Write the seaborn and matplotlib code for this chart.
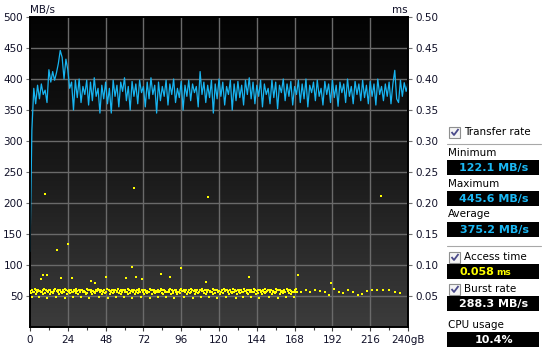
import numpy as np
import pandas as pd
import matplotlib
matplotlib.use("Agg")
import matplotlib.pyplot as plt
import seaborn as sns
from matplotlib.patches import Rectangle
from matplotlib.lines import Line2D
from matplotlib.colors import LinearSegmentedColormap

# ---------------- data ----------------
transfer_mbs = [
    122, 318, 385, 360, 390, 368, 392, 375, 382, 362, 415, 395, 412, 398, 410, 425, 446, 435, 400, 432,
    415, 385, 395, 350, 398, 370, 400, 362, 388, 375, 398, 358, 395, 365, 402, 372, 385, 345, 390, 368,
    395, 360, 385, 345, 398, 372, 390, 355, 395, 380, 402, 365, 388, 350, 396, 372, 392, 360, 398, 378,
    388, 355, 395, 368, 402, 375, 390, 345, 395, 365, 388, 372, 398, 358, 392, 375, 400, 362, 385, 370,
    396, 350, 390, 372, 398, 365, 392, 378, 388, 355, 412, 375, 395, 362, 390, 370, 398, 345, 392, 368,
    400, 372, 395, 358, 388, 375, 398, 350, 392, 365, 396, 370, 390, 358, 398, 375, 402, 368, 395, 360,
    390, 372, 398, 355, 392, 375, 385, 360, 398, 370, 395, 352, 390, 378, 400, 365, 392, 372, 396, 358,
    388, 375, 398, 362, 392, 368, 400, 355, 390, 378, 395, 365, 398, 372, 385, 358, 396, 375, 392, 362,
    398, 370, 390, 356, 395, 378, 392, 362, 400, 372, 388, 360, 396, 375, 392, 365, 398, 370, 390, 360,
    396, 372, 392, 358, 400, 375, 388, 365, 392, 372, 395, 360, 392, 414, 368, 362, 398, 372, 394, 380,
    392,
]
transfer_step_gb = 1.2

access_band_a_us = [
    58, 60, 57, 61, 59, 60, 58, 57, 60, 61, 59, 58, 60, 60, 57, 59, 61, 58, 60, 59,
    57, 59, 61, 60, 58, 60, 59, 57, 60, 61, 58, 59, 60, 60, 58, 57, 61, 59, 60, 59,
    58, 57, 60, 61, 59, 60, 58, 60, 57, 61, 59, 58, 60, 60, 59, 57, 61, 58, 60, 59,
    59, 57, 61, 60, 58, 60, 59, 58, 60, 61, 57, 59, 60, 60, 58, 57, 61, 59, 60, 59,
    58, 60, 57, 61, 59, 60, 58, 57, 60, 61, 59, 58, 60, 60, 57, 59, 61, 58, 60, 59,
    57, 59, 61, 60, 58, 60, 59, 57, 60, 61, 58, 59, 60, 60, 58, 57, 61, 59, 60, 59,
    58, 57, 60, 61, 59, 60, 58, 60, 57, 61, 59, 58, 60, 60, 59, 57, 61, 58, 60, 59,
    59, 57, 61, 60, 58, 60, 59, 58, 60, 61, 57, 59, 60, 60, 58, 57, 61, 59, 60, 59,
    58, 60, 57, 61, 59, 60, 58, 57, 60, 61,
]
access_band_b_us = [
    55, 48, 57, 54, 56, 48, 58, 56, 54, 55, 47, 57, 54, 56, 55, 58, 48, 56, 54, 57,
    55, 56, 47, 54, 57, 55, 56, 48, 58, 55, 54, 56, 48, 57, 56, 54, 55, 47, 57, 54,
    56, 55, 58, 48, 56, 54, 57, 55, 56, 47, 54, 57, 55, 56, 48, 58, 55, 54, 56, 48,
    57, 56, 54, 55, 47, 57, 54, 56, 55, 58, 48, 56, 54, 57, 55, 56, 47, 54, 57, 55,
    56, 48, 58, 55, 54, 56, 48, 57, 56, 54, 55, 47, 57, 54, 56, 55, 58, 48, 56, 54,
    57, 55, 56, 47, 54, 57, 55, 56, 48, 58, 55, 54, 56, 48, 57, 56, 54, 55, 47, 57,
    54, 56, 55, 58, 48, 56, 54, 57, 55, 56, 47, 54, 57, 55, 56, 48, 58, 55, 54, 56,
    48, 57, 56, 54, 55, 47, 57, 54, 56, 55, 58, 48, 56, 54, 57, 55, 56, 47, 54, 57,
    55, 56, 48, 58, 55, 54, 56, 48, 57, 56,
]
access_tail_gb = [172, 175, 178, 181, 184, 187, 190, 193, 196, 199, 202, 205, 208, 211, 214, 217, 220, 224, 228, 232, 235]
access_tail_us = [57, 60, 56, 59, 58, 57, 52, 61, 57, 55, 59, 56, 52, 54, 58, 60, 59, 60, 59, 57, 55]
access_out_gb = [6.7, 8, 11, 9.3, 17, 19.4, 24, 26.5, 39, 41, 48.4, 61, 65, 66, 67, 71, 83, 89, 96, 112, 113, 139, 170, 191, 223]
access_out_us = [78, 84, 84, 215, 125, 79, 134, 79, 74, 71, 81, 79, 97, 225, 81, 78, 86, 81, 95, 73, 210, 81, 84, 71, 212]

left_ticks = [50, 100, 150, 200, 250, 300, 350, 400, 450, 500]
right_ticks = [0.05, 0.10, 0.15, 0.20, 0.25, 0.30, 0.35, 0.40, 0.45, 0.50]
x_ticks = [0, 24, 48, 72, 96, 120, 144, 168, 192, 216, 240]
x_ticklabels = ["0", "24", "48", "72", "96", "120", "144", "168", "192", "216", "240gB"]

panel_stats = [("Minimum", "122.1 MB/s"), ("Maximum", "445.6 MB/s"), ("Average", "375.2 MB/s")]
access_text = "0.058"
burst_text = "288.3 MB/s"
cpu_text = "10.4%"

# ---------------- frames ----------------
df_tr = pd.DataFrame({"gb": [i * transfer_step_gb for i in range(len(transfer_mbs))],
                      "mbs": transfer_mbs})
acc_gb = ([float(i) for i in range(len(access_band_a_us))]
          + [i + 0.5 for i in range(len(access_band_b_us))]
          + access_tail_gb + access_out_gb)
acc_us = access_band_a_us + access_band_b_us + access_tail_us + access_out_us
df_acc = pd.DataFrame({"gb": acc_gb, "ms": [v / 1000 for v in acc_us]})

# ---------------- figure ----------------
sns.set_theme(style="white")
plt.rcParams["font.family"] = ["DejaVu Sans"]
W, H = 544, 353
fig = plt.figure(figsize=(W / 100, H / 100), dpi=100)
fig.patch.set_facecolor("white")

L, R, T, B = 30, 408, 17, 327
ax = fig.add_axes([L / W, 1 - B / H, (R - L) / W, (B - T) / H])

grad = np.linspace(1, 0, 256).reshape(-1, 1)
cmap = LinearSegmentedColormap.from_list("bg", ["#030303", "#1a1a1a", "#3c3c3c"])
ax.imshow(grad, extent=[0, 240, 0, 500], aspect="auto", cmap=cmap, zorder=0,
          origin="lower", interpolation="bilinear")

for v in left_ticks[:-1]:
    ax.axhline(v, color="#6a6a6a", lw=1.0, zorder=1)
for v in x_ticks[1:-1]:
    ax.axvline(v, color="#6a6a6a", lw=1.0, zorder=1)

ax2 = ax.twinx()
sns.scatterplot(data=df_acc, x="gb", y="ms", ax=ax2, marker="s", s=0.7,
                color="#ffff00", linewidth=0, legend=False, zorder=3)
sns.lineplot(data=df_tr, x="gb", y="mbs", ax=ax, color="#18b4f0", lw=0.9, zorder=4)
ax.set_xlim(0, 240)
ax.set_ylim(0, 500)
ax2.set_xlim(0, 240)
ax2.set_ylim(0, 0.5)

lab_col = "#101028"
fs = 7.5
ax.set_yticks(left_ticks)
ax.set_yticklabels([str(v) for v in left_ticks], fontsize=fs, color=lab_col)
ax2.set_yticks(right_ticks)
ax2.set_yticklabels([f"{v:.2f}" for v in right_ticks], fontsize=fs, color=lab_col)
ax.set_xticks(x_ticks)
ax.set_xticklabels(x_ticklabels, fontsize=fs, color=lab_col)
ax.set_xticks([12 * k for k in range(1, 20, 2)], minor=True)
ax.tick_params(axis="y", length=3, width=0.8, color="#707070", pad=2, left=True)
ax.tick_params(axis="x", which="major", length=3, width=0.8, color="#404040", pad=3, bottom=True)
ax.tick_params(axis="x", which="minor", length=2, width=0.8, color="#404040", bottom=True)
ax2.tick_params(axis="y", length=3, width=0.8, color="#707070", pad=2, right=True)
for a in (ax, ax2):
    a.set_xlabel("")
    a.set_ylabel("")
    for s in a.spines.values():
        s.set_color("black")
        s.set_linewidth(1.2)

fig.text(L / W, 1 - 10 / H, "MB/s", fontsize=fs, color=lab_col, ha="left", va="center")
fig.text(R / W, 1 - 10 / H, "ms", fontsize=fs, color=lab_col, ha="right", va="center")

# ---------------- right panel ----------------
pan = fig.add_axes([440 / W, 0, 104 / W, 1])
pan.set_xlim(440, 544)
pan.set_ylim(353, 0)
pan.axis("off")

def checkbox(y, label):
    pan.add_patch(Rectangle((449, y - 5.5), 11, 11, facecolor="#f4f4f4", edgecolor="#8e8f8f", lw=0.8))
    pan.add_line(Line2D([451.5, 454, 458.5], [y, y + 3, y - 3], color="#4a4a8a", lw=1.3,
                        solid_capstyle="butt"))
    pan.text(464, y, label, fontsize=7.5, color="black", ha="left", va="center")

def valbox(y0, h, txt, color, small_unit=None):
    pan.add_patch(Rectangle((447, y0), 92, h, facecolor="black", edgecolor="none"))
    yc = y0 + h / 2
    if small_unit is None:
        pan.text(494, yc + 0.5, txt, fontsize=8, fontweight="bold", color=color, ha="center", va="center")
    else:
        pan.text(494, yc + 0.5, txt, fontsize=8, fontweight="bold", color=color, ha="right", va="center")
        pan.text(496, yc + 1.0, small_unit, fontsize=6.5, fontweight="bold", color=color, ha="left", va="center")

checkbox(132, "Transfer rate")
pan.add_line(Line2D([447, 541], [144, 144], color="#a8a8a8", lw=0.8))
ys = [(153, 160), (184, 191), (214, 222)]
for (name, val), (ty, by) in zip(panel_stats, ys):
    pan.text(448, ty, name, fontsize=7.5, color="black", ha="left", va="center")
    valbox(by, 15, val, "#1ab8f4")
pan.add_line(Line2D([447, 541], [246, 246], color="#a8a8a8", lw=0.8))
checkbox(257, "Access time")
valbox(264, 15, access_text, "#ffff00", small_unit="ms")
checkbox(289, "Burst rate")
valbox(296, 15, burst_text, "white")
pan.text(448, 325, "CPU usage", fontsize=7.5, color="black", ha="left", va="center")
valbox(332, 15, cpu_text, "white")

fig.savefig("out.png", dpi=100)
